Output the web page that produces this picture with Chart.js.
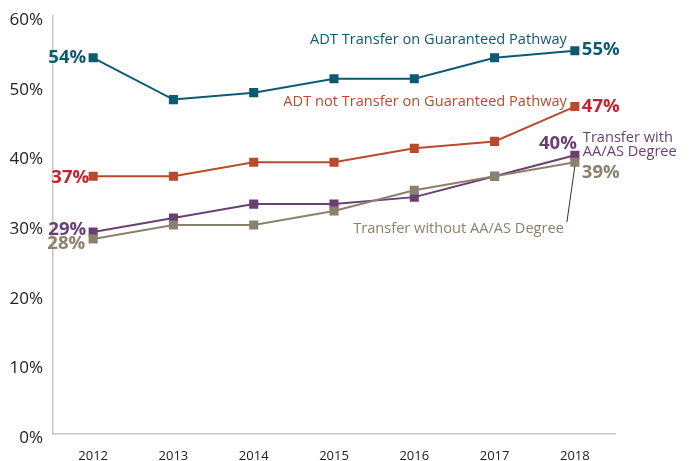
<!DOCTYPE html>
<html lang="en">
<head>
    <meta charset="UTF-8">
    <title>Transfer Rates by Pathway</title>
    <script src="https://cdn.jsdelivr.net/npm/chart.js"></script>
    <style>
        html, body { margin: 0; padding: 0; background: #fff; }
        #wrap { width: 689px; height: 461px; }
    </style>
</head>
<body>
    <div id="wrap"><canvas id="myChart"></canvas></div>
    <script>
        // data
        const years = ['2012', '2013', '2014', '2015', '2016', '2017', '2018'];
        const adtOnPathway = [54, 48, 49, 51, 51, 54, 55];
        const adtNotOnPathway = [37, 37, 39, 39, 41, 42, 47];
        const withDegree = [29, 31, 33, 33, 34, 37, 40];
        const withoutDegree = [28, 30, 30, 32, 35, 37, 39];
        const yTicks = [0, 10, 20, 30, 40, 50, 60];

        const BLUE = '#0e5a73';
        const ORANGE = '#b94a2c';
        const RED = '#c8202f';
        const PURPLE = '#6a3f74';
        const GRAY = '#8b826e';
        const FONT = '"Open Sans", Lato, sans-serif';

        function series(label, values, color) {
            return {
                label: label,
                data: values,
                borderColor: color,
                backgroundColor: color,
                borderWidth: 2,
                pointStyle: 'rect',
                pointRadius: 5,
                pointHoverRadius: 5,
                tension: 0
            };
        }

        // end labels + series names, positioned from the scales
        const labelPlugin = {
            id: 'labels',
            afterDatasetsDraw(chart) {
                const ctx = chart.ctx;
                const x = chart.scales.x, y = chart.scales.y;
                const first = x.getPixelForValue(0), last = x.getPixelForValue(6);
                const px = (v) => y.getPixelForValue(v);

                function text(str, tx, ty, color, align, font) {
                    ctx.save();
                    ctx.font = font;
                    ctx.fillStyle = color;
                    ctx.textAlign = align;
                    ctx.textBaseline = 'middle';
                    ctx.fillText(str, tx, ty);
                    ctx.restore();
                }
                const bold = 'bold 18.5px ' + FONT;
                const name = '14.6px ' + FONT;

                // start values
                text(adtOnPathway[0] + '%', first - 7, px(adtOnPathway[0]), BLUE, 'right', bold);
                text(adtNotOnPathway[0] + '%', first - 4, px(adtNotOnPathway[0]) + 2, RED, 'right', bold);
                text(withDegree[0] + '%', first - 7, px(withDegree[0]) - 2, PURPLE, 'right', bold);
                text(withoutDegree[0] + '%', first - 8, px(withoutDegree[0]) + 5, GRAY, 'right', bold);

                // end values
                text(adtOnPathway[6] + '%', last + 7, px(adtOnPathway[6]) - 1, BLUE, 'left', bold);
                text(adtNotOnPathway[6] + '%', last + 7, px(adtNotOnPathway[6]), RED, 'left', bold);
                text(withDegree[6] + '%', last + 2, px(withDegree[6]) - 12, PURPLE, 'right', bold);
                text(withoutDegree[6] + '%', last + 7, px(withoutDegree[6]) + 10, GRAY, 'left', bold);

                // series names
                text('ADT Transfer on Guaranteed Pathway', last - 8, px(adtOnPathway[6]) - 11, BLUE, 'right', name);
                text('ADT not Transfer on Guaranteed Pathway', last - 8, px(adtNotOnPathway[6]) - 5, ORANGE, 'right', name);
                text('Transfer with', last + 8, px(withDegree[6]) - 17, PURPLE, 'left', name);
                text('AA/AS Degree', last + 8, px(withDegree[6]) - 3, PURPLE, 'left', name);
                text('Transfer without AA/AS Degree', last - 11, px(withoutDegree[6]) + 67, GRAY, 'right', name);

                // leader line to the last grey point
                ctx.save();
                ctx.strokeStyle = '#333';
                ctx.lineWidth = 1;
                ctx.beginPath();
                ctx.moveTo(last - 8, px(withoutDegree[6]) + 60);
                ctx.lineTo(last, px(withoutDegree[6]) + 4);
                ctx.stroke();
                ctx.restore();
            }
        };

        const ctx = document.getElementById('myChart').getContext('2d');
        new Chart(ctx, {
            type: 'line',
            data: {
                labels: years,
                datasets: [
                    series('ADT Transfer on Guaranteed Pathway', adtOnPathway, BLUE),
                    series('ADT not Transfer on Guaranteed Pathway', adtNotOnPathway, ORANGE),
                    series('Transfer with AA/AS Degree', withDegree, PURPLE),
                    series('Transfer without AA/AS Degree', withoutDegree, GRAY)
                ].reverse()
            },
            options: {
                responsive: true,
                maintainAspectRatio: false,
                animation: false,
                layout: { padding: { top: 16, right: 74, bottom: 0, left: 0 } },
                plugins: {
                    legend: { display: false },
                    tooltip: { enabled: false }
                },
                scales: {
                    x: {
                        offset: true,
                        grid: { display: false, drawTicks: false },
                        border: { color: '#c8c8c8', width: 1.5 },
                        ticks: { color: '#222', font: { family: FONT, size: 13 }, padding: 14, maxRotation: 0 },
                        afterFit(scale) { scale.height = 27; }
                    },
                    y: {
                        min: 0,
                        max: 60,
                        afterBuildTicks(scale) { scale.ticks = yTicks.map(v => ({ value: v })); },
                        grid: { display: false, drawTicks: false },
                        border: { color: '#c8c8c8', width: 1.5 },
                        ticks: {
                            color: '#222',
                            font: { family: FONT, size: 17 },
                            padding: 10,
                            labelOffset: 4,
                            callback: (v) => v + '%'
                        },
                        afterFit(scale) {
                            scale.width = 53;
                            scale.paddingTop = 0;
                            scale.paddingBottom = 0;
                        }
                    }
                }
            },
            plugins: [labelPlugin]
        });
    </script>
</body>
</html>
